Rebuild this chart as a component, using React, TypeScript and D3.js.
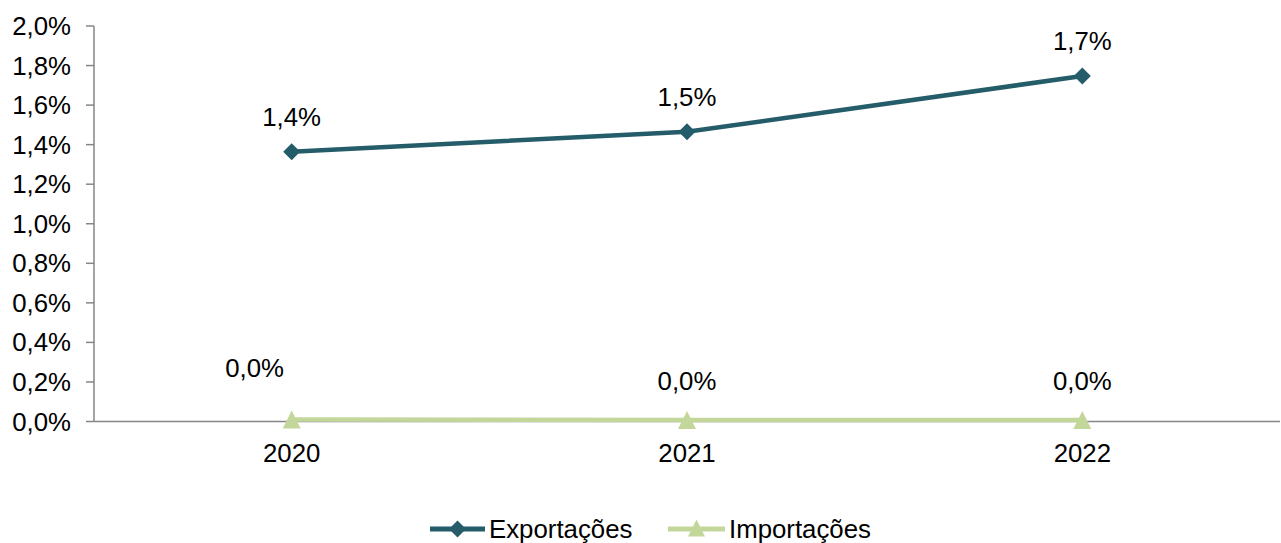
import React from "react";
import * as d3 from "d3";

const categories = ["2020", "2021", "2022"];
const exportacoes = [1.364, 1.465, 1.747];
const importacoes = [0.01, 0.007, 0.008];
const exportLabels = ["1,4%", "1,5%", "1,7%"];
const importLabels = ["0,0%", "0,0%", "0,0%"];
const yTicks = [0, 0.2, 0.4, 0.6, 0.8, 1.0, 1.2, 1.4, 1.6, 1.8, 2.0];

const W = 1281;
const H = 543;
const FONT = "'Liberation Sans', Arial, sans-serif";
const FS = 25.8;
const EXP_COLOR = "#245C6A";
const IMP_COLOR = "#C4D79B";
const AXIS_COLOR = "#868686";

export default function App() {
  const left = 94, right = 1280, top = 26, bottom = 421.5;
  const x = d3.scaleBand<string>().domain(categories).range([left, right]);
  const y = d3.scaleLinear().domain([0, 2]).range([bottom, top]);
  const cx = (c: string) => (x(c) as number) + x.bandwidth() / 2;
  const fmt = (v: number) => v.toFixed(1).replace(".", ",") + "%";
  const line = d3.line<number>().x((_, i) => cx(categories[i])).y((v) => y(v));

  const diamond = (px: number, py: number, r = 8.5) =>
    `M${px},${py - r}L${px + r},${py}L${px},${py + r}L${px - r},${py}Z`;
  const triangle = (px: number, py: number, s = 9) =>
    `M${px},${py - s}L${px + s},${py + s}L${px - s},${py + s}Z`;

  return (
    <svg width={W} height={H} style={{ position: "absolute", left: 0, top: 0 }} fontFamily={FONT}>
      <rect width={W} height={H} fill="#fff" />
      {/* y axis */}
      <line x1={left} x2={left} y1={top} y2={bottom} stroke={AXIS_COLOR} strokeWidth={1.5} />
      {yTicks.map((t) => (
        <g key={t}>
          <line x1={left - 8} x2={left} y1={y(t)} y2={y(t)} stroke={AXIS_COLOR} strokeWidth={1.5} />
          <text x={71} y={y(t)} dy="0.35em" textAnchor="end" fontSize={FS} fill="#000">
            {fmt(t)}
          </text>
        </g>
      ))}
      {/* x axis */}
      <line x1={left} x2={right} y1={bottom} y2={bottom} stroke={AXIS_COLOR} strokeWidth={1.5} />
      {categories.map((c) => (
        <text key={c} x={cx(c)} y={453} dy="0.35em" textAnchor="middle" fontSize={FS} fill="#000">
          {c}
        </text>
      ))}
      {/* importações */}
      <path d={line(importacoes) || ""} fill="none" stroke={IMP_COLOR} strokeWidth={4.5} />
      {importacoes.map((v, i) => (
        <path key={i} d={triangle(cx(categories[i]), y(v))} fill={IMP_COLOR} />
      ))}
      {importacoes.map((v, i) => (
        <text
          key={i}
          x={cx(categories[i]) + (i === 0 ? -37 : 0)}
          y={y(v) - (i === 0 ? 52 : 39)}
          dy="0.35em"
          textAnchor="middle"
          fontSize={FS}
          fill="#000"
        >
          {importLabels[i]}
        </text>
      ))}
      {/* exportações */}
      <path d={line(exportacoes) || ""} fill="none" stroke={EXP_COLOR} strokeWidth={4.5} />
      {exportacoes.map((v, i) => (
        <path key={i} d={diamond(cx(categories[i]), y(v))} fill={EXP_COLOR} />
      ))}
      {exportacoes.map((v, i) => (
        <text key={i} x={cx(categories[i])} y={y(v) - 35} dy="0.35em" textAnchor="middle" fontSize={FS} fill="#000">
          {exportLabels[i]}
        </text>
      ))}
      {/* legend */}
      <g>
        <line x1={430} x2={485} y1={529} y2={529} stroke={EXP_COLOR} strokeWidth={5} />
        <path d={diamond(457.5, 529, 8.5)} fill={EXP_COLOR} />
        <text x={489} y={529} dy="0.35em" fontSize={FS} fill="#000">Exportações</text>
        <line x1={668} x2={725} y1={529} y2={529} stroke={IMP_COLOR} strokeWidth={5} />
        <path d={triangle(696.5, 528, 8.5)} fill={IMP_COLOR} />
        <text x={729} y={529} dy="0.35em" fontSize={FS} fill="#000">Importações</text>
      </g>
    </svg>
  );
}
